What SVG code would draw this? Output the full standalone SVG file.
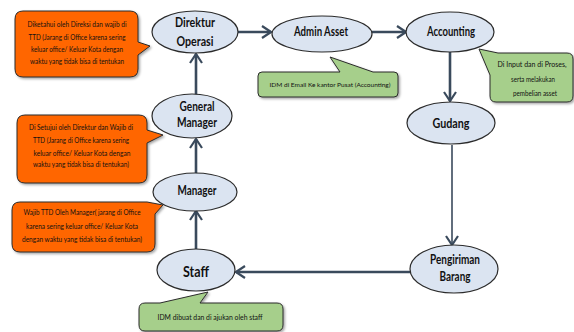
<svg xmlns="http://www.w3.org/2000/svg" width="574" height="332" viewBox="0 0 574 332">
  <defs>
    <filter id="shadow" x="-10%" y="-10%" width="125%" height="130%">
      <feDropShadow dx="1.5" dy="1.5" stdDeviation="1" flood-color="#000" flood-opacity="0.35"/>
    </filter>
    <marker id="arrow" viewBox="0 0 11 14" refX="10" refY="7" markerWidth="11" markerHeight="14" markerUnits="userSpaceOnUse" orient="auto">
      <path d="M1,1 L10,7 L1,13" fill="none" stroke="#3a4a5c" stroke-width="2.2" stroke-linejoin="miter"/>
    </marker>
  </defs>
  <style>
    .node ellipse { fill: #dbe4f1; stroke: #2b2b2b; stroke-width: 1.2; }
    .label { font-family: Lato, "Open Sans", "DejaVu Sans", sans-serif; font-weight: 700; font-size: 12.5px; fill: #111; text-anchor: middle; }
    .edge { fill: none; stroke: #3a4a5c; stroke-width: 2.6; marker-end: url(#arrow); }
    .thin { stroke-width: 1.6; }
    .orange { fill: #ff6600; stroke: #2b2b2b; stroke-width: 1; filter: url(#shadow); }
    .green { fill: #a6cf8b; stroke: #2b2b2b; stroke-width: 1; filter: url(#shadow); }
    .note { font-family: Lato, "Open Sans", "DejaVu Sans", sans-serif; font-size: 7px; fill: #111; text-anchor: middle; }
  </style>

  <rect width="574" height="332" fill="#ffffff"/>

  <!-- connectors -->
  <g id="connectors">
    <line class="edge" x1="196" y1="250" x2="196" y2="211"/>
    <line class="edge" x1="196" y1="174" x2="196" y2="139"/>
    <line class="edge" x1="196" y1="95" x2="196" y2="54"/>
    <line class="edge" x1="238" y1="32" x2="271" y2="32"/>
    <line class="edge" x1="372" y1="32" x2="406" y2="32"/>
    <line class="edge" x1="450" y1="52" x2="450" y2="101"/>
    <line class="edge thin" x1="452" y1="145" x2="452" y2="245"/>
    <line class="edge" x1="411" y1="272" x2="236" y2="272"/>
  </g>

  <!-- process nodes -->
  <g id="direktur-operasi" class="node">
    <ellipse cx="195" cy="32" rx="43" ry="21"/>
    <text class="label" x="195" y="27" textLength="40" lengthAdjust="spacingAndGlyphs">Direktur</text>
    <text class="label" x="195" y="46" textLength="37" lengthAdjust="spacingAndGlyphs">Operasi</text>
  </g>
  <g id="admin-asset" class="node">
    <ellipse cx="322" cy="34" rx="50" ry="18"/>
    <text class="label" x="321" y="36" textLength="54" lengthAdjust="spacingAndGlyphs">Admin Asset</text>
  </g>
  <g id="accounting" class="node">
    <ellipse cx="450" cy="32" rx="44" ry="20"/>
    <text class="label" x="451" y="36" textLength="48" lengthAdjust="spacingAndGlyphs">Accounting</text>
  </g>
  <g id="gudang" class="node">
    <ellipse cx="451" cy="123" rx="44" ry="21"/>
    <text class="label" x="451" y="128" textLength="37" lengthAdjust="spacingAndGlyphs">Gudang</text>
  </g>
  <g id="pengiriman-barang" class="node">
    <ellipse cx="454" cy="269" rx="44" ry="24"/>
    <text class="label" x="455" y="264" textLength="50" lengthAdjust="spacingAndGlyphs">Pengiriman</text>
    <text class="label" x="455" y="281" textLength="31" lengthAdjust="spacingAndGlyphs">Barang</text>
  </g>
  <g id="staff" class="node">
    <ellipse cx="196" cy="270" rx="39" ry="21"/>
    <text class="label" x="196" y="277" textLength="26" lengthAdjust="spacingAndGlyphs" style="font-size:15px">Staff</text>
  </g>
  <g id="manager" class="node">
    <ellipse cx="195" cy="192" rx="42" ry="19"/>
    <text class="label" x="197" y="195" textLength="39" lengthAdjust="spacingAndGlyphs">Manager</text>
  </g>
  <g id="general-manager" class="node">
    <ellipse cx="192" cy="116" rx="40" ry="22"/>
    <text class="label" x="197" y="111" textLength="35" lengthAdjust="spacingAndGlyphs">General</text>
    <text class="label" x="197" y="127" textLength="40" lengthAdjust="spacingAndGlyphs">Manager</text>
  </g>

  <!-- orange approval notes -->
  <g id="note-direktur">
    <path class="orange" d="M23,11 H130 Q138,11 138,19 V42 L150,46 L138,55 V69 Q138,77 130,77 H23 Q15,77 15,69 V19 Q15,11 23,11 Z"/>
    <text class="note" x="77" y="27" textLength="99" lengthAdjust="spacingAndGlyphs">Diketahui oleh Direksi dan wajib di</text>
    <text class="note" x="77" y="40" textLength="97" lengthAdjust="spacingAndGlyphs">TTD (Jarang di Office karena sering</text>
    <text class="note" x="77" y="52" textLength="92" lengthAdjust="spacingAndGlyphs">keluar office/ Keluar Kota dengan</text>
    <text class="note" x="77" y="64" textLength="94" lengthAdjust="spacingAndGlyphs">waktu yang tidak bisa di tentukan</text>
  </g>
  <g id="note-general-manager">
    <path class="orange" d="M25,115 H139 Q147,115 147,123 V130 L163,135 L147,143 V175 Q147,183 139,183 H25 Q17,183 17,175 V123 Q17,115 25,115 Z"/>
    <text class="note" x="81" y="130" textLength="104" lengthAdjust="spacingAndGlyphs">Di Setujui oleh Direktur dan Wajib di</text>
    <text class="note" x="81" y="143" textLength="96" lengthAdjust="spacingAndGlyphs">TTD (Jarang di Office karena sering</text>
    <text class="note" x="82" y="156" textLength="97" lengthAdjust="spacingAndGlyphs" style="font-size:8px">keluar office/ Keluar Kota dengan</text>
    <text class="note" x="81" y="167" textLength="96" lengthAdjust="spacingAndGlyphs">waktu yang tidak bisa di tentukan)</text>
  </g>
  <g id="note-manager">
    <path class="orange" d="M20,202 H147 L163,205 L155,214 V244 Q155,252 147,252 H20 Q12,252 12,244 V210 Q12,202 20,202 Z"/>
    <text class="note" x="82" y="215" textLength="117" lengthAdjust="spacingAndGlyphs">Wajib TTD Oleh Manager( jarang di Office</text>
    <text class="note" x="82" y="229" textLength="112" lengthAdjust="spacingAndGlyphs">karena sering keluar office/ Keluar Kota</text>
    <text class="note" x="82" y="242" textLength="120" lengthAdjust="spacingAndGlyphs">dengan waktu yang tidak bisa di tentukan)</text>
  </g>

  <!-- green process notes -->
  <g id="note-admin-asset">
    <path class="green" d="M262,72 H340 L330,57 L373,72 H394 Q398,72 398,76 V93 Q398,97 394,97 H262 Q258,97 258,93 V76 Q258,72 262,72 Z"/>
    <text class="note" x="330" y="87" textLength="121" lengthAdjust="spacingAndGlyphs" style="font-size:6.5px">IDM di Email Ke kantor Pusat (Accounting)</text>
  </g>
  <g id="note-accounting">
    <path class="green" d="M490,75 L479,49 L498,53 H567 Q573,53 573,59 V96 Q573,102 567,102 H496 Q490,102 490,96 Z"/>
    <text class="note" x="532" y="67" textLength="69" lengthAdjust="spacingAndGlyphs">Di Input dan di Proses,</text>
    <text class="note" x="533" y="82" textLength="44" lengthAdjust="spacingAndGlyphs">serta melakukan</text>
    <text class="note" x="535" y="96" textLength="44" lengthAdjust="spacingAndGlyphs">pembelian asset</text>
  </g>
  <g id="note-staff">
    <path class="green" d="M145,303 H160 L208,292 L200,303 H277 Q283,303 283,309 V325 Q283,331 277,331 H145 Q139,331 139,325 V309 Q139,303 145,303 Z"/>
    <text class="note" x="210" y="320" textLength="105" lengthAdjust="spacingAndGlyphs">IDM dibuat dan di ajukan oleh staff</text>
  </g>
</svg>
